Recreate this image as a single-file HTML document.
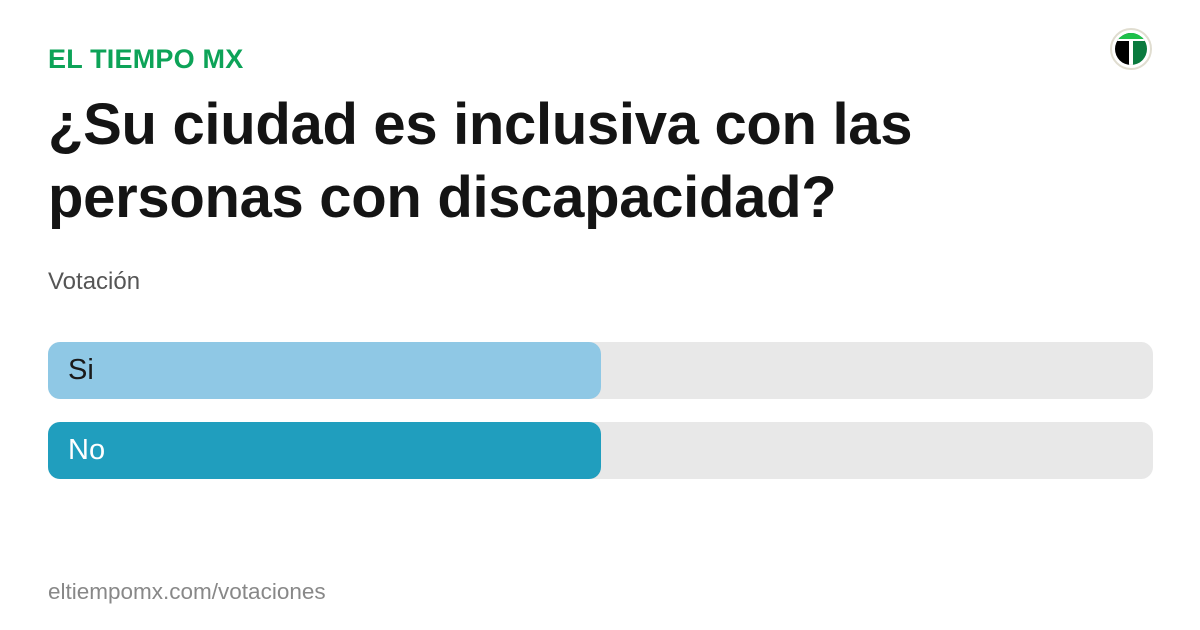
<!DOCTYPE html>
<html><head><meta charset="utf-8"><style>
body{margin:0;width:1200px;height:630px;background:#fff;font-family:"Liberation Sans",sans-serif;position:relative;overflow:hidden}
.a{position:absolute}
.brand{left:48px;top:44px;font-size:27px;font-weight:bold;color:#0da358;letter-spacing:0.2px}
.title{left:48px;top:88px;font-size:58px;font-weight:bold;color:#141414;line-height:73px;letter-spacing:-0.3px}
.sub{left:48px;top:268px;font-size:24px;color:#555}
.track{left:48px;width:1105px;height:57px;border-radius:12px;background:#e8e8e8}
.bar{left:48px;width:553px;height:57px;border-radius:12px}
.lbl{left:68px;font-size:29px;line-height:57px}
.foot{left:48px;top:579px;font-size:22.5px;color:#888}
</style></head><body>
<div class="a brand">EL TIEMPO MX</div>
<div class="a title">¿Su ciudad es inclusiva con las<br>personas con discapacidad?</div>
<div class="a sub">Votación</div>
<div class="a track" style="top:342px"></div>
<div class="a bar" style="top:342px;background:#8fc8e5"></div>
<div class="a lbl" style="top:342px;color:#1a1a1a">Si</div>
<div class="a track" style="top:422px"></div>
<div class="a bar" style="top:422px;background:#209ebe"></div>
<div class="a lbl" style="top:422px;color:#fff">No</div>
<div class="a foot">eltiempomx.com/votaciones</div>
<svg class="a" style="left:1110px;top:28px" width="42" height="42" viewBox="0 0 42 42">
<circle cx="21" cy="21" r="20" fill="#fff" stroke="#e0ddd0" stroke-width="2"/>
<clipPath id="c"><circle cx="21" cy="21" r="16"/></clipPath>
<g clip-path="url(#c)">
<rect x="0" y="0" width="21" height="42" fill="#000"/>
<rect x="21" y="0" width="21" height="42" fill="#0a7a3e"/>
<rect x="0" y="0" width="42" height="11" fill="#1ec04a"/>
<rect x="19" y="11" width="4" height="31" fill="#fff"/>
<rect x="5" y="11" width="32" height="2" fill="#fff"/>
</g></svg>
</body></html>
